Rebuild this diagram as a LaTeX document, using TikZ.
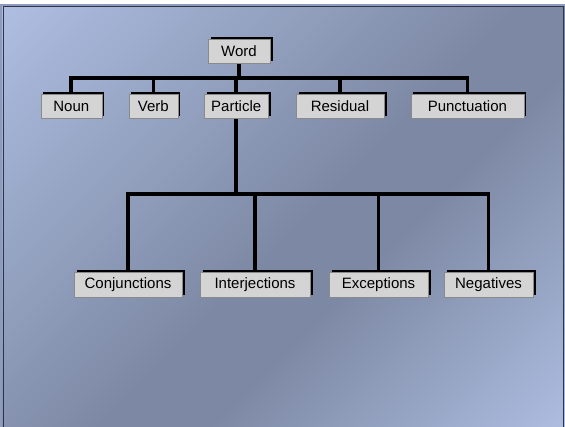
\documentclass[tikz,border=0pt]{standalone}
\usepackage{fontspec}
\setmainfont{Liberation Sans}
\usetikzlibrary{shadows,backgrounds}

\definecolor{bglight}{HTML}{B2C2E6}
\definecolor{bgdark}{HTML}{7D89A4}
\definecolor{boxface}{HTML}{D4D4D4}
\definecolor{boxedge}{HTML}{8A8A8A}
\definecolor{frameouter}{HTML}{8D9BC0}
\definecolor{frameinner}{HTML}{2E3440}

% broad light-dark-light band for the slide background
\pgfdeclareverticalshading{slidebg}{100bp}{%
  color(0bp)=(bglight); color(12bp)=(bglight); color(40bp)=(bgdark);
  color(48bp)=(bgdark); color(88bp)=(bglight); color(100bp)=(bglight)}

\begin{document}
\begin{tikzpicture}[x=1pt,y=-1pt,
  catbox/.style={rectangle, draw=boxedge, line width=0.6pt, fill=boxface,
    minimum height=24pt, inner sep=0pt, font=\fontsize{15}{18}\selectfont,
    general shadow={fill=black, shadow xshift=2.5pt, shadow yshift=2.5pt}},
  lowbox/.style={catbox, minimum height=25pt},
  conn/.style={line width=3.8pt, black, line join=miter}]

\useasboundingbox (0,0) rectangle (565,426);

% top level
\node[catbox, minimum width=62pt] (word) at (239,51) {Word};

% word classes
\node[catbox, minimum width=61pt]  (noun)     at (71.3,106.3) {Noun};
\node[catbox, minimum width=49pt]  (verb)     at (153.4,106.3) {Verb};
\node[catbox, minimum width=64pt]  (particle) at (236.2,106) {Particle};
\node[catbox, minimum width=88pt]  (residual) at (340,106) {Residual};
\node[catbox, minimum width=113pt] (punct)    at (467.4,106) {Punctuation};

% particle types
\node[lowbox, minimum width=108pt] (conj)   at (128,284.5) {Conjunctions};
\node[lowbox, minimum width=110pt] (inter)  at (255,284.5) {Interjections};
\node[lowbox, minimum width=99pt]  (except) at (378.5,284.5) {Exceptions};
\node[lowbox, minimum width=89pt]  (neg)    at (488.5,284.5) {Negatives};

\coordinate (bus) at (0,78);
\coordinate (lowbus) at (0,194);

\begin{scope}[on background layer]
  % slide background with diagonal gradient (upright y axis for the shading)
  \begin{scope}[y=1pt]
    \shade[shading=slidebg, shading angle=45] (0,-426) rectangle (565,-4);
  \end{scope}
  \fill[white] (0,0) rectangle (565,4);
  \draw[frameouter, line width=2pt] (1,430) -- (1,4.5) -- (565,4.5);
  \draw[frameinner, line width=1.2pt] (3.6,430) -- (3.6,6.2) -- (563.4,6.2) -- (563.4,430);

  % upper branch
  \draw[conn] (word.south) -- (word.south |- bus);
  \draw[conn] (noun.north) -- (noun.north |- bus) -- (punct.north |- bus) -- (punct.north);
  \foreach \n in {verb, particle, residual}
    \draw[conn] (\n.north) -- (\n.north |- bus);

  % lower branch
  \draw[conn] (particle.south) -- (particle.south |- lowbus);
  \draw[conn] (conj.north) -- (conj.north |- lowbus) -- (neg.north |- lowbus) -- (neg.north);
  \foreach \n in {inter, except}
    \draw[conn] (\n.north) -- (\n.north |- lowbus);
\end{scope}
\end{tikzpicture}
\end{document}
